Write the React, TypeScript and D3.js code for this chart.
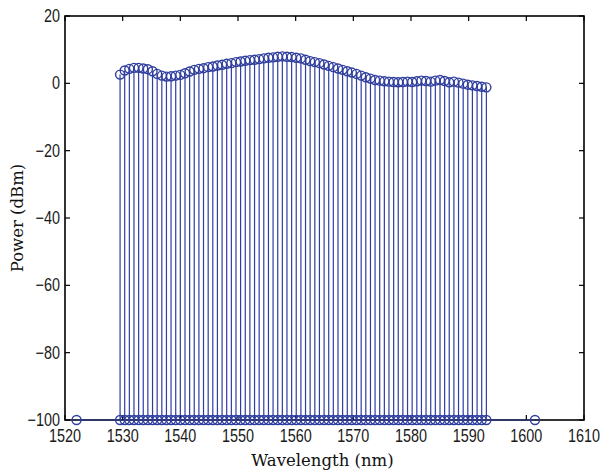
import React from "react";
import * as d3 from "d3";

const wavelengths = [
  1529.55, 1530.35, 1531.16, 1531.96, 1532.77, 1533.57, 1534.37, 1535.18, 1535.98, 1536.79,
  1537.59, 1538.39, 1539.2, 1540.0, 1540.81, 1541.61, 1542.41, 1543.22, 1544.02, 1544.83,
  1545.63, 1546.43, 1547.24, 1548.04, 1548.85, 1549.65, 1550.45, 1551.26, 1552.06, 1552.87,
  1553.67, 1554.47, 1555.28, 1556.08, 1556.89, 1557.69, 1558.49, 1559.3, 1560.1, 1560.91,
  1561.71, 1562.51, 1563.32, 1564.12, 1564.93, 1565.73, 1566.53, 1567.34, 1568.14, 1568.95,
  1569.75, 1570.55, 1571.36, 1572.16, 1572.97, 1573.77, 1574.57, 1575.38, 1576.18, 1576.99,
  1577.79, 1578.59, 1579.4, 1580.2, 1581.01, 1581.81, 1582.61, 1583.42, 1584.22, 1585.03,
  1585.83, 1586.63, 1587.44, 1588.24, 1589.05, 1589.85, 1590.65, 1591.46, 1592.26, 1593.07,
];

const powers = [
  2.6, 3.8, 4.3, 4.6, 4.6, 4.4, 4.2, 3.6, 2.8, 2.3,
  2.0, 2.1, 2.3, 2.5, 3.0, 3.5, 4.0, 4.3, 4.5, 4.8,
  5.0, 5.3, 5.5, 5.8, 6.0, 6.3, 6.5, 6.7, 6.9, 7.0,
  7.2, 7.4, 7.6, 7.7, 7.9, 8.0, 7.9, 7.8, 7.6, 7.4,
  7.0, 6.6, 6.3, 6.0, 5.6, 5.2, 4.8, 4.4, 4.0, 3.6,
  3.2, 2.8, 2.3, 1.8, 1.4, 1.0, 0.8, 0.6, 0.5, 0.4,
  0.3, 0.4, 0.5, 0.4, 0.6, 0.8, 0.7, 0.5, 0.8, 1.0,
  0.7, 0.3, 0.5, 0.2, -0.1, -0.4, -0.6, -0.8, -1.0, -1.2,
];

// Extra floor points at the ends (no signal)
const floorWavelengths = [1522, 1601.5];
const floorLevel = -100;

const xTicks = [1520, 1530, 1540, 1550, 1560, 1570, 1580, 1590, 1600, 1610];
const yTicks = [20, 0, -20, -40, -60, -80, -100];

const xLabel = "Wavelength (nm)";
const yLabel = "Power (dBm)";

const W = 604;
const H = 474;
const L = 65, R = 584, T = 16, B = 420;
const BLUE = "#2f3e9e";

export default function App() {
  const x = d3.scaleLinear().domain([1520, 1610]).range([L, R]);
  const y = d3.scaleLinear().domain([-100, 20]).range([B, T]);
  const fmt = (v: number) => (v < 0 ? "\u2212" + Math.abs(v) : String(v));
  const tickFont = { fontFamily: "'Liberation Sans', Arial, sans-serif", fontSize: 18 };
  const r = 4.5;
  const baseX0 = d3.min(floorWavelengths)!;
  const baseX1 = d3.max(floorWavelengths)!;
  const titleStyle = { fontFamily: "'DejaVu Serif', serif", fontSize: 16.5 };

  return (
    <svg width={W} height={H} style={{ position: "absolute", left: 0, top: 0, background: "#fff" }}>
      <rect x={0} y={0} width={W} height={H} fill="#fff" />
      {/* stems */}
      <g stroke={BLUE} strokeWidth={1.2}>
        {wavelengths.map((w, i) => (
          <line key={i} x1={x(w)} x2={x(w)} y1={y(floorLevel)} y2={y(powers[i])} />
        ))}
      </g>
      {/* axes box */}
      <rect x={L} y={T} width={R - L} height={B - T} fill="none" stroke="#000" strokeWidth={1.6} />
      {/* ticks */}
      <g stroke="#000" strokeWidth={1.2}>
        {xTicks.map((t) => (
          <g key={t}>
            <line x1={x(t)} x2={x(t)} y1={B} y2={B - 5} />
            <line x1={x(t)} x2={x(t)} y1={T} y2={T + 5} />
          </g>
        ))}
        {yTicks.map((t) => (
          <g key={t}>
            <line x1={L} x2={L + 5} y1={y(t)} y2={y(t)} />
            <line x1={R} x2={R - 5} y1={y(t)} y2={y(t)} />
          </g>
        ))}
      </g>
      {/* baseline */}
      <line x1={x(baseX0)} x2={x(baseX1)} y1={y(floorLevel)} y2={y(floorLevel)} stroke={BLUE} strokeWidth={1} />
      {/* circles */}
      <g fill="none" stroke={BLUE} strokeWidth={1.4}>
        {wavelengths.map((w, i) => (
          <circle key={"t" + i} cx={x(w)} cy={y(powers[i])} r={r} />
        ))}
        {wavelengths.map((w, i) => (
          <circle key={"b" + i} cx={x(w)} cy={y(floorLevel)} r={r} />
        ))}
        {floorWavelengths.map((w, i) => (
          <circle key={"f" + i} cx={x(w)} cy={y(floorLevel)} r={r} />
        ))}
      </g>
      {/* tick labels */}
      <g {...tickFont} fill="#1a1a1a">
        {xTicks.map((t) => (
          <text key={t} transform={`translate(${x(t)},${B + 22}) scale(0.8,1)`} textAnchor="middle">
            {fmt(t)}
          </text>
        ))}
        {yTicks.map((t) => (
          <text key={t} transform={`translate(${L - 5},${y(t) + 6}) scale(0.8,1)`} textAnchor="end">
            {fmt(t)}
          </text>
        ))}
      </g>
      <text x={(L + R) / 2 - 2} y={466} textAnchor="middle" style={titleStyle} fill="#111">
        {xLabel}
      </text>
      <text transform={`translate(23,${(T + B) / 2}) rotate(-90)`} textAnchor="middle" style={titleStyle} fill="#111">
        {yLabel}
      </text>
    </svg>
  );
}
